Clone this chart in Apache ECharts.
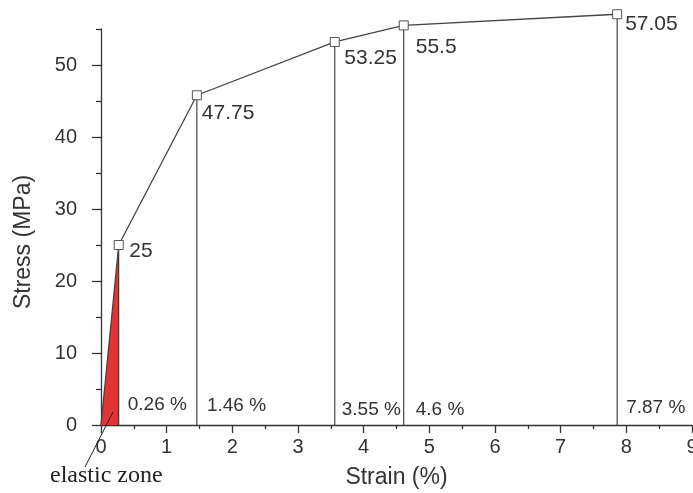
<!DOCTYPE html>
<html>
<head>
<meta charset="utf-8">
<title>Stress-strain</title>
<script src="https://cdn.jsdelivr.net/npm/echarts@6/dist/echarts.min.js"></script>
<style>
  html, body { margin: 0; padding: 0; background: #fff; }
  #main { width: 693px; height: 493px; }
</style>
</head>
<body>
<div id="main"></div>
<script>
// data
var strain = [0, 0.27, 1.46, 3.56, 4.61, 7.86];
var stress = [0, 25, 45.8, 53.2, 55.5, 57.05];
var stressLabels = ['', '25', '47.75', '53.25', '55.5', '57.05'];
var strainLabels = ['', '0.26 %', '1.46 %', '3.55 %', '4.6 %', '7.87 %'];
var elasticEnd = 1; // index of the end of the elastic zone

// label nudges (styling only)
var labelOffsets = [null, [5.5, 6], [0, 18], [4.5, 16], [7, 22], [3, 9.5]];
var pctOffsets = [null, [9, -2], [10, -1], [7, 3], [12, 3], [9, 1]];
var pctLevel = 2.5;

var textColor = '#333';
var font = 'Liberation Sans';

var chart = echarts.init(document.getElementById('main'));

var mainData = strain.map(function (x, i) {
  var item = { value: [x, stress[i]] };
  if (i === 0) {
    item.symbol = 'none';
  } else {
    item.label = {
      show: true,
      position: 'right',
      distance: 0,
      offset: labelOffsets[i],
      formatter: stressLabels[i]
    };
  }
  return item;
});

var series = [{
  // elastic zone fill
  type: 'line',
  data: [[strain[0], stress[0]], [strain[elasticEnd], stress[elasticEnd]]],
  symbol: 'none',
  lineStyle: { width: 0 },
  areaStyle: { color: '#e23434', opacity: 1 },
  z: 1,
  silent: true
}];

// vertical drop lines from each point to the axis
var pctData = [];
for (var i = 1; i < strain.length; i++) {
  series.push({
    type: 'line',
    data: [[strain[i], 0], [strain[i], stress[i]]],
    symbol: 'none',
    clip: false,
    silent: true,
    lineStyle: { color: '#222', width: 1 },
    z: 2
  });
  pctData.push({
    value: [strain[i], pctLevel],
    label: { offset: pctOffsets[i], formatter: strainLabels[i] }
  });
}

series.push({
  type: 'line',
  data: mainData,
  clip: false,
  symbol: 'rect',
  symbolSize: 9,
  itemStyle: { color: '#fff', borderColor: '#555', borderWidth: 1 },
  lineStyle: { color: '#444', width: 1.3 },
  label: { fontSize: 21, color: textColor, fontFamily: font, align: 'left', verticalAlign: 'middle' },
  z: 3
}, {
  type: 'scatter',
  data: pctData,
  symbolSize: 0.01,
  itemStyle: { color: textColor, opacity: 1 },
  label: {
    show: true,
    position: 'right',
    distance: 0,
    fontSize: 19,
    color: textColor,
    fontFamily: font,
    align: 'left',
    verticalAlign: 'middle'
  },
  silent: true,
  z: 4
});

var option = {
  animation: false,
  backgroundColor: '#fff',
  textStyle: { fontFamily: font },
  grid: { left: 101, right: 1, top: 29, bottom: 68, outerBoundsMode: 'none' },
  xAxis: {
    type: 'value',
    min: 0,
    max: 9,
    interval: 1,
    name: 'Strain (%)',
    nameLocation: 'middle',
    nameGap: 41,
    nameTextStyle: { fontSize: 23, color: textColor, fontFamily: font },
    axisLine: { show: true, onZero: false, lineStyle: { color: '#333', width: 1.3 } },
    axisTick: { show: true, length: 8, lineStyle: { color: '#333', width: 1.3 } },
    minorTick: { show: true, splitNumber: 2, length: 4, lineStyle: { color: '#333', width: 1.3 } },
    axisLabel: { fontSize: 20, color: textColor, margin: 12, fontFamily: font },
    splitLine: { show: false }
  },
  yAxis: [{
    type: 'value',
    min: 0,
    max: 55,
    interval: 10,
    position: 'left',
    name: 'Stress (MPa)',
    nameLocation: 'middle',
    nameGap: 66,
    nameTextStyle: { fontSize: 23, color: textColor, fontFamily: font, padding: [0, 30, 0, 0] },
    axisLine: { show: true, onZero: false, lineStyle: { color: '#333', width: 1.3 } },
    axisTick: { show: true, length: 9, customValues: [0, 10, 20, 30, 40, 50], lineStyle: { color: '#333', width: 1.3 } },
    axisLabel: { fontSize: 20, color: textColor, margin: 24, fontFamily: font, customValues: [0, 10, 20, 30, 40, 50] },
    splitLine: { show: false }
  }, {
    type: 'value',
    min: 0,
    max: 55,
    interval: 5,
    position: 'left',
    axisLine: { show: false },
    axisTick: { show: true, length: 5, customValues: [5, 15, 25, 35, 45, 55], lineStyle: { color: '#333', width: 1.3 } },
    axisLabel: { show: false },
    splitLine: { show: false }
  }],
  series: series,
  graphic: [{
    type: 'line',
    shape: { x1: 85, y1: 467, x2: 113, y2: 412 },
    style: { stroke: '#222', lineWidth: 1 },
    z: 10
  }, {
    type: 'text',
    x: 50,
    y: 476,
    style: {
      text: 'elastic zone',
      font: '24px "Liberation Serif"',
      fill: '#222',
      verticalAlign: 'middle'
    },
    z: 10
  }]
};

chart.setOption(option);
</script>
</body>
</html>
